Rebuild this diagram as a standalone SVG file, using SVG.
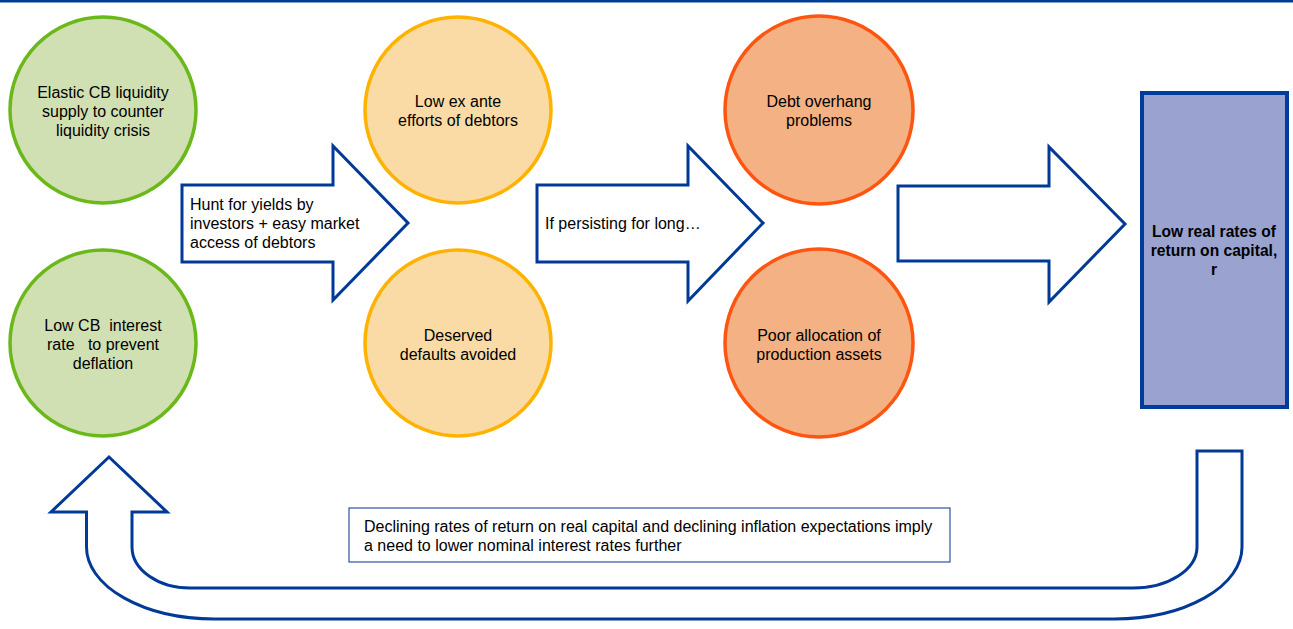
<svg xmlns="http://www.w3.org/2000/svg" width="1293" height="629" viewBox="0 0 1293 629">
<style>
text{font-family:"Liberation Sans",Arial,sans-serif;font-size:16px;fill:#000;white-space:pre}
.c{text-anchor:middle}
.b{font-weight:bold;font-size:15.6px}
.green{fill:#d1e0b2;stroke:#6ab81a;stroke-width:3.5}
.orange{fill:#fadba6;stroke:#ffb300;stroke-width:3.5}
.red{fill:#f4b183;stroke:#ff5510;stroke-width:3.5}
.arrow{fill:#fff;stroke:#003a96;stroke-width:3;stroke-linejoin:miter}
</style>
<rect x="0" y="0" width="1293" height="2.5" fill="#003d99"/>
<g id="n1"><circle class="green" cx="103" cy="110" r="93"/>
<text class="c" x="103" y="98">Elastic CB liquidity</text><text class="c" x="103" y="117">supply to counter</text><text class="c" x="103" y="136">liquidity crisis</text></g>
<g id="n2"><circle class="green" cx="103" cy="343" r="93"/>
<text class="c" x="103" y="331">Low CB  interest</text><text class="c" x="103" y="350">rate   to prevent</text><text class="c" x="103" y="369">deflation</text></g>
<g id="n3"><circle class="orange" cx="458" cy="110" r="93"/>
<text class="c" x="458" y="107">Low ex ante</text><text class="c" x="458" y="126">efforts of debtors</text></g>
<g id="n4"><circle class="orange" cx="458" cy="343" r="93"/>
<text class="c" x="458" y="341">Deserved</text><text class="c" x="458" y="360">defaults avoided</text></g>
<g id="n5"><circle class="red" cx="819" cy="110" r="94"/>
<text class="c" x="819" y="107">Debt overhang</text><text class="c" x="819" y="126">problems</text></g>
<g id="n6"><circle class="red" cx="819" cy="343" r="94"/>
<text class="c" x="819" y="341">Poor allocation of</text><text class="c" x="819" y="360">production assets</text></g>
<g id="n7"><rect x="1142" y="93" width="145" height="314" fill="#9aa3d0" stroke="#003d99" stroke-width="4"/>
<text class="c b" x="1214" y="237">Low real rates of</text><text class="c b" x="1214" y="256">return on capital,</text><text class="c b" x="1214" y="275">r</text></g>
<g id="connectors">
<g id="a1"><path class="arrow" d="M182,185 H333 V146 L408,223 L333,300 V262 H182 Z"/>
<text x="190" y="210">Hunt for yields by</text><text x="190" y="229">investors + easy market</text><text x="190" y="248">access of debtors</text></g>
<g id="a2"><path class="arrow" d="M537,185 H688 V146 L763,223 L688,301 V262 H537 Z"/>
<text x="545" y="229">If persisting for long…</text></g>
<g id="a3"><path class="arrow" d="M898,186 H1049 V147 L1125,224 L1049,302 V261 H898 Z"/></g>
<g id="a4"><path class="arrow" d="M1242,451 V547 A128,72 0 0 1 1114,619 H214.5 A128,72 0 0 1 86.5,547 V512 H51 L109,457 L167,512 H132 V547 A58,41 0 0 0 190,588 H1133 A64,41 0 0 0 1197,547 V451 Z"/></g>
</g>
<g id="note"><rect x="349" y="508" width="601" height="54" fill="#fff" stroke="#2a54a0" stroke-width="1.2"/>
<text x="364" y="532">Declining rates of return on real capital and declining inflation expectations imply</text>
<text x="364" y="551">a need to lower nominal interest rates further</text></g>
</svg>
